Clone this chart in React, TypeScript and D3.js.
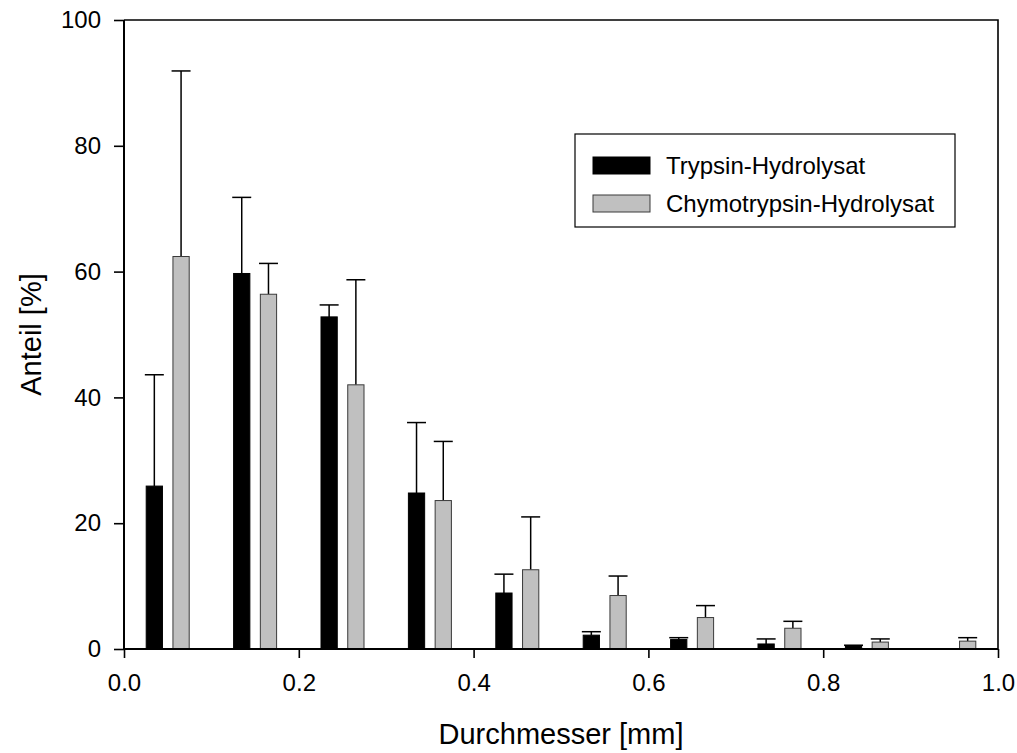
import { useEffect, useRef } from "react";
import * as d3 from "d3";

// Size classes (bin centres, mm)
const BINS = [0.05, 0.15, 0.25, 0.35, 0.45, 0.55, 0.65, 0.75, 0.85, 0.95];

// Trypsin-Hydrolysat: mean and upper SD
const TRYPSIN = [25.9, 59.7, 52.8, 24.8, 8.9, 2.2, 1.5, 0.8, 0.4, 0];
const TRYPSIN_SD = [17.7, 12.1, 1.9, 11.2, 3.0, 0.55, 0.3, 0.8, 0.2, 0];

// Chymotrypsin-Hydrolysat: mean and upper SD
const CHYMO = [62.4, 56.4, 42.0, 23.6, 12.6, 8.5, 5.0, 3.3, 1.1, 1.25];
const CHYMO_SD = [29.5, 4.9, 16.7, 9.4, 8.4, 3.1, 1.9, 1.1, 0.5, 0.55];

const X_TICKS = [0, 0.2, 0.4, 0.6, 0.8, 1.0];
const Y_TICKS = [0, 20, 40, 60, 80, 100];

const SERIES = [
  { name: "Trypsin-Hydrolysat", values: TRYPSIN, sd: TRYPSIN_SD, fill: "#000000", stroke: "#000000", offset: -0.0153 },
  { name: "Chymotrypsin-Hydrolysat", values: CHYMO, sd: CHYMO_SD, fill: "#c0c0c0", stroke: "#3a3a3a", offset: 0.0153 },
];

const W = 1017;
const H = 753;
const PLOT = { left: 124, right: 998, top: 20, bottom: 649 };
const FONT = "Liberation Sans, Arial, sans-serif";

export default function App() {
  const svgRef = useRef<SVGSVGElement | null>(null);

  useEffect(() => {
    if (!svgRef.current) return;
    const svg = d3.select(svgRef.current);
    svg.selectAll("*").remove();

    const x = d3.scaleLinear().domain([0, 1]).range([PLOT.left, PLOT.right]);
    const y = d3.scaleLinear().domain([0, 100]).range([PLOT.bottom, PLOT.top]);
    const barW = x(0.0186) - x(0);
    const capW = 19;

    // frame (top + right)
    svg
      .append("path")
      .attr("d", `M${PLOT.left},${PLOT.top}H${PLOT.right}V${PLOT.bottom}`)
      .attr("fill", "none")
      .attr("stroke", "#000")
      .attr("stroke-width", 1.6);

    // error bars first, bars on top
    SERIES.forEach((s) => {
      const g = svg.append("g");
      BINS.forEach((b, i) => {
        const v = s.values[i];
        if (v <= 0) return;
        const cx = x(b + s.offset);
        const top = y(v + s.sd[i]);
        g.append("line")
          .attr("x1", cx)
          .attr("x2", cx)
          .attr("y1", y(v))
          .attr("y2", top)
          .attr("stroke", "#000")
          .attr("stroke-width", 1.5);
        g.append("line")
          .attr("x1", cx - capW / 2)
          .attr("x2", cx + capW / 2)
          .attr("y1", top)
          .attr("y2", top)
          .attr("stroke", "#000")
          .attr("stroke-width", 1.5);
        g.append("rect")
          .attr("x", cx - barW / 2)
          .attr("y", y(v))
          .attr("width", barW)
          .attr("height", y(0) - y(v))
          .attr("fill", s.fill)
          .attr("stroke", s.stroke)
          .attr("stroke-width", 1);
      });
    });

    // axes
    const xAxis = svg
      .append("g")
      .attr("transform", `translate(0,${PLOT.bottom})`)
      .call(
        d3
          .axisBottom(x)
          .tickValues(X_TICKS)
          .tickFormat(d3.format(".1f"))
          .tickSize(9)
          .tickPadding(16)
      );
    const yAxis = svg
      .append("g")
      .attr("transform", `translate(${PLOT.left},0)`)
      .call(d3.axisLeft(y).tickValues(Y_TICKS).tickSize(10).tickPadding(13));

    [xAxis, yAxis].forEach((a) => {
      a.select(".domain").attr("stroke-width", 2).attr("stroke", "#000");
      a.selectAll(".tick line").attr("stroke-width", 1.6).attr("stroke", "#000");
      a.selectAll(".tick text")
        .attr("font-family", FONT)
        .attr("font-size", 24)
        .attr("fill", "#000");
    });
    // flat ends on the domain paths
    xAxis.select(".domain").attr("d", `M${PLOT.left},0H${PLOT.right}`);
    yAxis.select(".domain").attr("d", `M0,${PLOT.bottom}V${PLOT.top}`);

    // axis titles
    svg
      .append("text")
      .attr("x", (PLOT.left + PLOT.right) / 2)
      .attr("y", 744)
      .attr("text-anchor", "middle")
      .attr("font-family", FONT)
      .attr("font-size", 29)
      .text("Durchmesser [mm]");
    svg
      .append("text")
      .attr("transform", `translate(41,${(PLOT.top + PLOT.bottom) / 2}) rotate(-90)`)
      .attr("text-anchor", "middle")
      .attr("font-family", FONT)
      .attr("font-size", 29)
      .text("Anteil [%]");

    // legend
    const lg = svg.append("g");
    lg.append("rect")
      .attr("x", 575)
      .attr("y", 134)
      .attr("width", 380)
      .attr("height", 93)
      .attr("fill", "#fff")
      .attr("stroke", "#000")
      .attr("stroke-width", 1.2);
    SERIES.forEach((s, i) => {
      const yy = 157 + i * 38;
      lg.append("rect")
        .attr("x", 593)
        .attr("y", yy)
        .attr("width", 57)
        .attr("height", 17)
        .attr("fill", s.fill)
        .attr("stroke", s.stroke)
        .attr("stroke-width", 1);
      lg.append("text")
        .attr("x", 666)
        .attr("y", yy + 17)
        .attr("font-family", FONT)
        .attr("font-size", 24)
        .text(s.name);
    });
  }, []);

  return (
    <svg
      ref={svgRef}
      width={W}
      height={H}
      style={{ position: "absolute", left: 0, top: 0, background: "#fff" }}
    />
  );
}
